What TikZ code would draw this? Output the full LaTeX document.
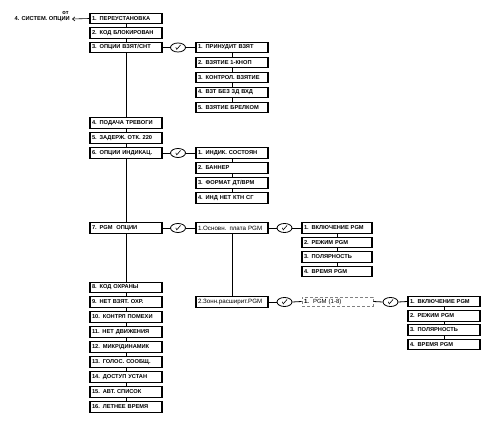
\documentclass[tikz,border=0pt]{standalone}
\usepackage{fontspec}
\setmainfont{Liberation Sans}
\usetikzlibrary{shapes.geometric,arrows.meta}
\tikzset{
  bx/.style={draw, line width=1.1pt, minimum width=72pt, minimum height=10.5pt,
    text width=68pt, inner xsep=2pt, inner ysep=0pt, align=left,
    font=\fontsize{5.7}{6}\selectfont\bfseries},
  bxr/.style={bx, font=\fontsize{6.2}{6.5}\selectfont},
  dbx/.style={draw=gray, densely dashed, line width=0.6pt, minimum width=71pt, minimum height=9pt,
    text width=67pt, inner xsep=2pt, inner ysep=0pt, align=left,
    font=\fontsize{6}{6.5}\selectfont},
  chk/.style={draw, ellipse, line width=0.8pt, minimum width=15pt, minimum height=9pt, inner sep=0pt},
  ln/.style={line width=0.8pt},
  lbl/.style={font=\fontsize{5.7}{6}\selectfont\bfseries, inner sep=0pt},
}
\newcommand{\tick}[1]{\draw[line width=0.6pt] ([shift={(-2.2pt,0.2pt)}]#1.center) -- ([shift={(-1.2pt,-1.8pt)}]#1.center) -- ([shift={(2.6pt,2.6pt)}]#1.center);}
\begin{document}
\begin{tikzpicture}[x=1pt,y=-1pt]
\useasboundingbox (0,0) rectangle (490,422);
% left column
\node[bx] (L1) at (126,18.5) {1. ПЕРЕУСТАНОВКА};
\node[bx] (L2) at (126,33) {2. КОД БЛОКИРОВАН};
\node[bx] (L3) at (126,47.5) {3. ОПЦИИ ВЗЯТ/СНТ};
\node[bx] (L4) at (126,123) {4. ПОДАЧА ТРЕВОГИ};
\node[bx] (L5) at (126,138) {5. ЗАДЕРЖ. ОТК. 220};
\node[bx] (L6) at (126,153) {6. ОПЦИИ ИНДИКАЦ.};
\node[bx] (L7) at (126,228) {7. PGM\ \ ОПЦИИ};
\node[bx] (L8) at (126,287.5) {8. КОД ОХРАНЫ};
\node[bx] (L9) at (126,302) {9. НЕТ ВЗЯТ. ОХР.};
\node[bx] (L10) at (126,317) {10. КОНТРЛ ПОМЕХИ};
\node[bx] (L11) at (126,332) {11. НЕТ ДВИЖЕНИЯ};
\node[bx] (L12) at (126,347) {12. МИКР/ДИНАМИК};
\node[bx] (L13) at (126,362) {13. ГОЛОС. СООБЩ.};
\node[bx] (L14) at (126,377) {14. ДОСТУП УСТАН};
\node[bx] (L15) at (126,392) {15. АВТ. СПИСОК};
\node[bx] (L16) at (126,407) {16. ЛЕТНЕЕ ВРЕМЯ};
\foreach \a/\b in {L1/L2,L2/L3,L3/L4,L4/L5,L5/L6,L6/L7,L7/L8,L8/L9,L9/L10,L10/L11,L11/L12,L12/L13,L13/L14,L14/L15,L15/L16}
  \draw[ln] (\a.south) -- (\b.north);
% top-left label
\node[lbl, anchor=east] (sys) at (70,19.5) {4. СИСТЕМ. ОПЦИИ};
\node[lbl] (ot) at (65.5,13) {от};
\coordinate (ae) at (72,19);
\draw[line width=0.6pt, -{Straight Barb[length=2.5pt,width=4pt]}] (L1.west) -- (ae);
% sub A
\node[bx] (A1) at (232,47.5) {1. ПРИНУДИТ ВЗЯТ};
\node[bx] (A2) at (232,62.5) {2. ВЗЯТИЕ 1-КНОП};
\node[bx] (A3) at (232,77.5) {3. КОНТРОЛ. ВЗЯТИЕ};
\node[bx] (A4) at (232,92.5) {4. ВЗТ БЕЗ ЗД ВХД};
\node[bx] (A5) at (232,107.5) {5. ВЗЯТИЕ БРЕЛКОМ};
\foreach \a/\b in {A1/A2,A2/A3,A3/A4,A4/A5} \draw[ln] (\a.south) -- (\b.north);
\node[chk] (c1) at (178,47.5) {};
\tick{c1}
\draw[ln] (L3.east) -- (c1.west);
\draw[ln] (c1.east) -- (A1.west);
% sub B
\node[bx] (B1) at (232,153) {1. ИНДИК. СОСТОЯН};
\node[bx] (B2) at (232,168) {2. БАННЕР};
\node[bx] (B3) at (232,183) {3. ФОРМАТ ДТ/ВРМ};
\node[bx] (B4) at (232,198) {4. ИНД НЕТ КТН СГ};
\foreach \a/\b in {B1/B2,B2/B3,B3/B4} \draw[ln] (\a.south) -- (\b.north);
\node[chk] (c2) at (178,153) {};
\tick{c2}
\draw[ln] (L6.east) -- (c2.west);
\draw[ln] (c2.east) -- (B1.west);
% PGM
\node[bxr] (P1) at (232,228) {1.Основн. плата PGM};
\node[bxr] (P2) at (232,302) {2.Зонн.расширит.PGM};
\draw[ln] (P1.south) -- (P2.north);
\node[chk] (c3) at (178,228) {};
\tick{c3}
\draw[ln] (L7.east) -- (c3.west);
\draw[ln] (c3.east) -- (P1.west);
% sub C
\node[bx, minimum width=70pt, text width=66pt] (C1) at (337,228) {1. ВКЛЮЧЕНИЕ PGM};
\node[bx, minimum width=70pt, text width=66pt] (C2) at (337,242.5) {2. РЕЖИМ PGM};
\node[bx, minimum width=70pt, text width=66pt] (C3) at (337,257) {3. ПОЛЯРНОСТЬ};
\node[bx, minimum width=70pt, text width=66pt] (C4) at (337,271.5) {4. ВРЕМЯ PGM};
\foreach \a/\b in {C1/C2,C2/C3,C3/C4} \draw[ln] (\a.south) -- (\b.north);
\node[chk] (c4) at (284.5,228) {};
\tick{c4}
\draw[ln] (P1.east) -- (c4.west);
\draw[ln] (c4.east) -- (C1.west);
% zone expander
\node[dbx] (Z1) at (337.5,301.5) {\textbf{1.}\ \ PGM (1-8)};
\node[chk] (c5) at (284.5,302) {};
\tick{c5}
\draw[ln] (P2.east) -- (c5.west);
\draw[ln] (c5.east) -- (Z1.west);
\node[chk] (c6) at (390.5,302) {};
\tick{c6}
\draw[ln] (Z1.east) -- (c6.west);
% sub D
\node[bx] (D1) at (444,301.5) {1. ВКЛЮЧЕНИЕ PGM};
\node[bx] (D2) at (444,316) {2. РЕЖИМ PGM};
\node[bx] (D3) at (444,330) {3. ПОЛЯРНОСТЬ};
\node[bx] (D4) at (444,344.5) {4. ВРЕМЯ PGM};
\foreach \a/\b in {D1/D2,D2/D3,D3/D4} \draw[ln] (\a.south) -- (\b.north);
\draw[ln] (c6.east) -- (D1.west);
\end{tikzpicture}
\end{document}
